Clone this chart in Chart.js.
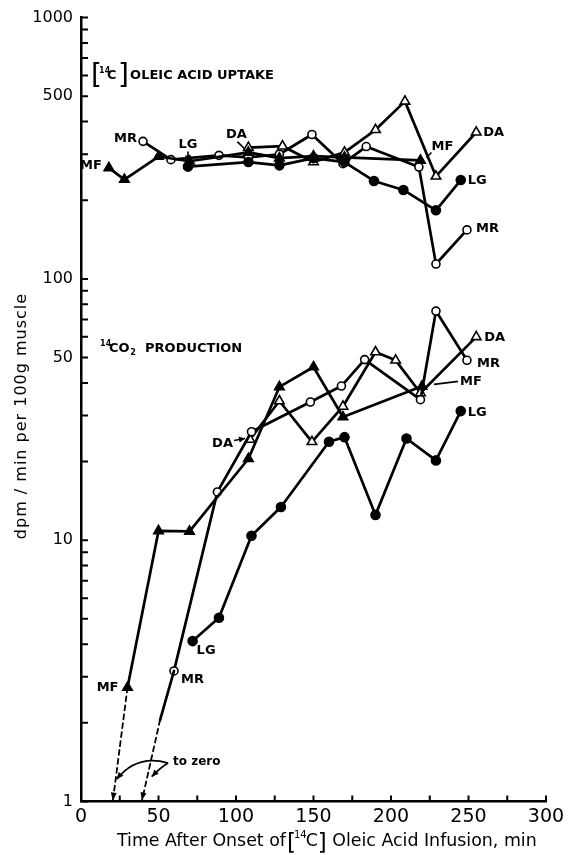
<!DOCTYPE html>
<html>
<head>
<meta charset="utf-8">
<title>Oleic acid uptake and 14CO2 production</title>
<script src="https://cdn.jsdelivr.net/npm/chart.js@4.4.1/dist/chart.umd.min.js"></script>
<style>
html,body{margin:0;padding:0;background:#ffffff;}
canvas{display:block;}
</style>
</head>
<body>
<canvas id="chart" width="577" height="855"></canvas>
<script>
// ---------- tick values / labels ----------
const xTickValues = [0,25,50,75,100,125,150,175,200,225,250,275,300];
const xTickLabelValues = [0,50,100,150,200,250,300];
const yTickValues = [1,2,3,4,5,6,7,8,9,10,20,30,40,50,60,70,80,90,100,200,300,400,500,600,700,800,900,1000];
const yTickLabelValues = [1,10,50,100,500,1000];

// ---------- [14C] oleic acid uptake (dpm/min per 100 g muscle) ----------
const uptakeMR_t = [40, 58, 89, 108, 128, 149, 169, 184, 218, 229, 249];
const uptakeMR_v = [336, 286, 297, 292, 300, 357, 276, 321, 268, 114, 154];
const uptakeLG_t = [69, 108, 128, 150, 170, 189, 208, 229, 245];
const uptakeLG_v = [269, 280, 272, 290, 280, 237, 219, 183, 239];
const uptakeMF_t = [18, 28, 50, 70, 108, 128, 150, 170, 219];
const uptakeMF_v = [266, 240, 294, 282, 305, 290, 295, 292, 284];
const uptakeDA_t = [108, 130, 150, 170, 190, 209, 229, 255];
const uptakeDA_v = [318, 322, 280, 305, 372, 478, 247, 364];

// ---------- 14CO2 production ----------
const co2MR_t = [60, 88, 110, 148, 168, 183, 219, 229, 249];
const co2MR_v = [3.16, 15.3, 26, 33.8, 38.9, 49.1, 34.5, 75.3, 48.8];
const co2LG_t = [72, 89, 110, 129, 160, 170, 190, 210, 229, 245];
const co2LG_v = [4.11, 5.05, 10.4, 13.4, 23.8, 24.8, 12.5, 24.5, 20.2, 31.2];
const co2MF_t = [30, 50, 70, 108, 128, 150, 169, 220];
const co2MF_v = [2.73, 10.85, 10.8, 20.5, 38.6, 46, 29.6, 38.8];
const co2DA_t = [109, 128, 149, 169, 190, 203, 219, 255];
const co2DA_v = [24.3, 34.1, 23.8, 32.5, 52.5, 48.8, 36.6, 60];

// ---------- "to zero" extrapolations ----------
const zeroMF_t = [30, 20.5];
const zeroMF_v = [2.73, 1];
const extMR_t = [60, 51];
const extMR_v = [3.16, 2.05];
const zeroMR_t = [51, 39.2];
const zeroMR_v = [2.05, 1];

// ---------- styles ----------
const TF = '"DejaVu Sans", sans-serif';
const marker = {
  MR: {style:'circle',   r:4,   fill:'#ffffff'},
  LG: {style:'circle',   r:4.5, fill:'#000000'},
  MF: {style:'triangle', r:5.5, fill:'#000000'},
  DA: {style:'triangle', r:5.5, fill:'#ffffff'}
};
function pts(t, v){ return t.map((x,i)=>({x:x, y:v[i]})); }
function series(label, animal, t, v){
  const m = marker[animal];
  return {label:label, data:pts(t,v), borderColor:'#000', borderWidth:2.7,
    pointStyle:m.style, pointRadius:m.r, pointHoverRadius:m.r,
    pointBackgroundColor:m.fill, pointBorderColor:'#000', pointBorderWidth:1.6,
    tension:0, fill:false};
}
function guide(label, t, v, dashed){
  return {label:label, data:pts(t,v), borderColor:'#000', borderWidth: dashed ? 1.8 : 2.7,
    borderDash: dashed ? [5,4] : [], pointRadius:0, tension:0, fill:false};
}

const datasets = [
  guide('MF to zero', zeroMF_t, zeroMF_v, true),
  guide('MR ext', extMR_t, extMR_v, false),
  guide('MR to zero', zeroMR_t, zeroMR_v, true),
  series('Uptake LG', 'LG', uptakeLG_t, uptakeLG_v),
  series('Uptake MF', 'MF', uptakeMF_t, uptakeMF_v),
  series('Uptake MR', 'MR', uptakeMR_t, uptakeMR_v),
  series('Uptake DA', 'DA', uptakeDA_t, uptakeDA_v),
  series('CO2 LG', 'LG', co2LG_t, co2LG_v),
  series('CO2 MF', 'MF', co2MF_t, co2MF_v),
  series('CO2 MR', 'MR', co2MR_t, co2MR_v),
  series('CO2 DA', 'DA', co2DA_t, co2DA_v)
];

// ---------- annotation texts (anchored to data points, pixel offsets) ----------
const animalLabels = [
  {text:'MF', t:18,  v:266,  dx:-7,  dy:-2,  align:'right'},
  {text:'MR', t:40,  v:336,  dx:-6,  dy:-3,  align:'right'},
  {text:'LG', t:69,  v:269,  dx:0,   dy:-22, align:'center', pointer:[[0,-15],[0,-5]], arrow:true},
  {text:'DA', t:108, v:318,  dx:-12, dy:-13, align:'center', pointer:[[-11,-6],[-4,1]]},
  {text:'MF', t:219, v:284,  dx:11,  dy:-14, align:'left',   pointer:[[6,-3],[11,-8]]},
  {text:'DA', t:255, v:364,  dx:7,   dy:0,   align:'left'},
  {text:'LG', t:245, v:239,  dx:7,   dy:1,   align:'left'},
  {text:'MR', t:249, v:154,  dx:9,   dy:-1,  align:'left'},
  {text:'DA', t:109, v:24.3, dx:-17, dy:4,   align:'right',  pointer:[[-16,1],[-5,-1]], arrow:true},
  {text:'DA', t:255, v:60,   dx:8,   dy:1,   align:'left'},
  {text:'MR', t:249, v:48.8, dx:10,  dy:3,   align:'left'},
  {text:'MF', t:220, v:38.8, dx:38,  dy:-5,  align:'left',   pointer:[[12,-2],[36,-5]]},
  {text:'LG', t:245, v:31.2, dx:7,   dy:2,   align:'left'},
  {text:'LG', t:72,  v:4.11, dx:4,   dy:10,  align:'left'},
  {text:'MR', t:60,  v:3.16, dx:7,   dy:9,   align:'left'},
  {text:'MF', t:30,  v:2.73, dx:-9,  dy:0,   align:'right'}
];

function arrowHead(ctx, x, y, ang, len, w){
  const c = Math.cos(ang), s = Math.sin(ang);
  ctx.beginPath();
  ctx.moveTo(x, y);
  ctx.lineTo(x - len*c + w*s, y - len*s - w*c);
  ctx.lineTo(x - len*c - w*s, y - len*s + w*c);
  ctx.closePath();
  ctx.fill();
}

const overlay = {
  id:'overlay',
  afterDraw(chart){
    const ctx = chart.ctx, xs = chart.scales.x, ys = chart.scales.y, a = chart.chartArea;
    const X = t => xs.getPixelForValue(t), Y = v => ys.getPixelForValue(v);
    ctx.save();
    ctx.strokeStyle = '#000'; ctx.fillStyle = '#000';

    // inward tick marks
    ctx.lineWidth = 2;
    ctx.beginPath();
    yTickValues.forEach(v => { const y = Y(v); ctx.moveTo(a.left, y); ctx.lineTo(a.left + 7, y); });
    xTickValues.forEach(t => { const x = X(t); ctx.moveTo(x, a.bottom); ctx.lineTo(x, a.bottom - 6); });
    ctx.stroke();

    // arrowheads on "to zero" dashed lines
    [[zeroMF_t, zeroMF_v], [zeroMR_t, zeroMR_v]].forEach(p => {
      const x0 = X(p[0][0]), y0 = Y(p[1][0]), x1 = X(p[0][1]), y1 = Y(p[1][1]);
      arrowHead(ctx, x1, y1 - 1, Math.atan2(y1 - y0, x1 - x0), 8, 3);
    });

    // "to zero" note with curved arrows
    const nx = X(59.4), ny = Y(1.416);
    ctx.font = 'bold 12px ' + TF; ctx.textAlign = 'left'; ctx.textBaseline = 'middle';
    ctx.fillText('to zero', nx, ny);
    ctx.lineWidth = 1.8;
    const sx = nx - 5, sy = ny + 1;
    const targets = [[X(23), Y(1.216), X(36), Y(1.52)], [X(45.6), Y(1.244), X(52), Y(1.36)]];
    targets.forEach(tg => {
      ctx.beginPath(); ctx.moveTo(sx, sy); ctx.quadraticCurveTo(tg[2], tg[3], tg[0], tg[1]); ctx.stroke();
      arrowHead(ctx, tg[0], tg[1], Math.atan2(tg[1] - tg[3], tg[0] - tg[2]), 7, 3);
    });

    // animal labels
    ctx.font = 'bold 13px ' + TF; ctx.textBaseline = 'middle';
    animalLabels.forEach(L => {
      const px = X(L.t), py = Y(L.v);
      ctx.textAlign = L.align;
      ctx.fillText(L.text, px + L.dx, py + L.dy);
      if (L.pointer) {
        const p0 = L.pointer[0], p1 = L.pointer[1];
        ctx.lineWidth = 1.6;
        ctx.beginPath(); ctx.moveTo(px + p0[0], py + p0[1]); ctx.lineTo(px + p1[0], py + p1[1]); ctx.stroke();
        if (L.arrow) arrowHead(ctx, px + p1[0], py + p1[1], Math.atan2(p1[1] - p0[1], p1[0] - p0[0]), 6, 3);
      }
    });

    // group title: [14C] OLEIC ACID UPTAKE
    let gx = X(6.5), gy = Y(611);
    ctx.textAlign = 'left'; ctx.textBaseline = 'alphabetic';
    ctx.font = '28px ' + TF; ctx.fillText('[', gx, gy + 10);
    ctx.font = 'bold 8px ' + TF; ctx.fillText('14', gx + 8, gy - 1);
    ctx.font = 'bold 13px ' + TF; ctx.fillText('C', gx + 16, gy + 5);
    ctx.font = '28px ' + TF; ctx.fillText(']', gx + 27, gy + 10);
    ctx.font = 'bold 13px ' + TF; ctx.fillText('OLEIC ACID UPTAKE', gx + 39, gy + 5);

    // group title: 14CO2 PRODUCTION
    gx = X(12.3); gy = Y(54.7);
    ctx.font = 'bold 8px ' + TF; ctx.fillText('14', gx, gy - 1);
    ctx.font = 'bold 13px ' + TF; ctx.fillText('CO', gx + 9, gy + 5);
    const coW = ctx.measureText('CO').width;
    ctx.font = 'bold 8px ' + TF; ctx.fillText('2', gx + 9 + coW + 0.5, gy + 8);
    ctx.font = 'bold 13px ' + TF; ctx.fillText('PRODUCTION', gx + 45, gy + 5);

    // x axis title (composed so the isotope bracket matches the original)
    const by = 846;
    const FS = '17.4px ';
    let cx = 117;
    ctx.font = FS + TF;
    ctx.fillText('Time After Onset of', cx, by);
    cx += ctx.measureText('Time After Onset of').width + 1;
    ctx.font = '23px ' + TF; ctx.fillText('[', cx, by + 4);
    cx += ctx.measureText('[').width - 2;
    ctx.font = '10px ' + TF; ctx.fillText('14', cx, by - 8);
    cx += ctx.measureText('14').width - 1;
    ctx.font = FS + TF; ctx.fillText('C', cx, by);
    cx += ctx.measureText('C').width;
    ctx.font = '23px ' + TF; ctx.fillText(']', cx, by + 4);
    cx += ctx.measureText(']').width;
    ctx.font = FS + TF;
    ctx.fillText(' Oleic Acid Infusion, min', cx, by);

    // y axis title
    ctx.save();
    ctx.translate(22, 416);
    ctx.rotate(-Math.PI / 2);
    ctx.font = '16px ' + TF;
    try { ctx.letterSpacing = '1px'; } catch(e) {}
    ctx.textAlign = 'center'; ctx.textBaseline = 'middle';
    ctx.fillText('dpm / min per 100g muscle', 0, 0);
    ctx.restore();

    ctx.restore();
  }
};

new Chart(document.getElementById('chart'), {
  type: 'line',
  data: { datasets: datasets },
  plugins: [overlay],
  options: {
    responsive: false,
    animation: false,
    devicePixelRatio: 1,
    layout: { padding: { left: 0, right: 31, top: 16, bottom: 0 } },
    plugins: { legend: { display: false }, tooltip: { enabled: false }, title: { display: false } },
    elements: { line: { borderJoinStyle: 'round', borderCapStyle: 'round' } },
    scales: {
      x: {
        type: 'linear', position: 'bottom', min: 0, max: 300,
        afterFit: s => { s.height = 53.5; },
        afterBuildTicks: s => { s.ticks = xTickValues.map(v => ({value: v})); },
        grid: { display: true, drawOnChartArea: false, drawTicks: false },
        border: { display: true, color: '#000', width: 2.5 },
        ticks: {
          autoSkip: false, maxRotation: 0, padding: 4, color: '#000',
          font: { family: '"DejaVu Sans", sans-serif', size: 19 },
          callback: v => xTickLabelValues.includes(v) ? String(v) : ''
        }
      },
      y: {
        type: 'logarithmic', position: 'left', min: 1, max: 1000,
        afterFit: s => { s.width = 81; },
        afterBuildTicks: s => { s.ticks = yTickValues.map(v => ({value: v})); },
        grid: { display: true, drawOnChartArea: false, drawTicks: false },
        border: { display: true, color: '#000', width: 2.5 },
        ticks: {
          autoSkip: false, padding: 8, color: '#000',
          font: { family: '"DejaVu Sans", sans-serif', size: 16 },
          callback: v => yTickLabelValues.includes(v) ? String(v) : ''
        }
      }
    }
  }
});
</script>
</body>
</html>
